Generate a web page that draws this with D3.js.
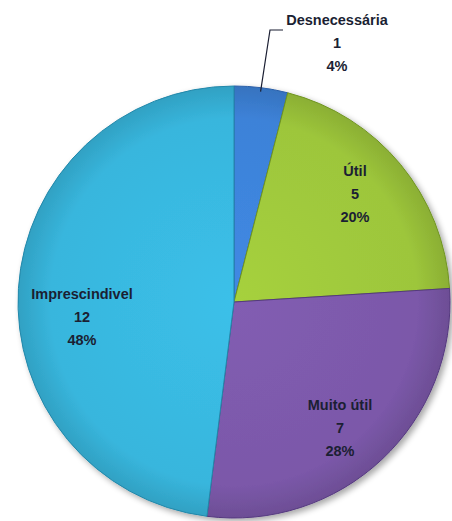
<!DOCTYPE html>
<html>
<head>
<meta charset="utf-8">
<script src="https://cdn.jsdelivr.net/npm/d3@7/dist/d3.min.js"></script>
<style>
  html, body { margin: 0; padding: 0; background: #fff; }
  svg { display: block; }
  text { font-family: "Liberation Sans", Arial, sans-serif; font-weight: bold; fill: #1b1f33; }
</style>
</head>
<body>
<svg id="chart" width="452" height="521"></svg>
<script>
// Answer categories, counts and slice colours (clockwise from 12 o'clock)
const categories = ["Desnecessária", "Útil", "Muito útil", "Imprescindivel"];
const counts = [1, 5, 7, 12];
const colors = ["#3d82d8", "#9dc63b", "#7b58a9", "#38b6dd"];
const edgeColors = ["#2b5fa8", "#6f9420", "#55397f", "#2388aa"];

const width = 452, height = 521;
const cx = 234, cy = 302, radius = 216;

const svg = d3.select("#chart");
const defs = svg.append("defs");

// soft shadow under the pie
const shadow = defs.append("filter").attr("id", "shadow")
  .attr("x", "-10%").attr("y", "-10%").attr("width", "130%").attr("height", "130%");
shadow.append("feGaussianBlur").attr("in", "SourceAlpha").attr("stdDeviation", 3);
shadow.append("feOffset").attr("dx", 3).attr("dy", 3).attr("result", "off");
shadow.append("feComponentTransfer").append("feFuncA").attr("type", "linear").attr("slope", 0.35);
const merge = shadow.append("feMerge");
merge.append("feMergeNode");
merge.append("feMergeNode").attr("in", "SourceGraphic");

// radial shading for each slice
colors.forEach((c, i) => {
  const g = defs.append("radialGradient").attr("id", "grad" + i)
    .attr("gradientUnits", "userSpaceOnUse")
    .attr("cx", 0).attr("cy", 0).attr("r", radius);
  g.append("stop").attr("offset", "0%").attr("stop-color", d3.color(c).brighter(0.15));
  g.append("stop").attr("offset", "85%").attr("stop-color", c);
  g.append("stop").attr("offset", "100%").attr("stop-color", d3.color(c).darker(0.35));
});

const total = d3.sum(counts);
const pie = d3.pie().sort(null).value(d => d);
const arcs = pie(counts);
const arc = d3.arc().innerRadius(0).outerRadius(radius);

const g = svg.append("g").attr("transform", `translate(${cx},${cy})`);

g.append("g").attr("filter", "url(#shadow)")
  .selectAll("path")
  .data(arcs)
  .join("path")
  .attr("d", arc)
  .attr("fill", (d, i) => `url(#grad${i})`)
  .attr("stroke", (d, i) => edgeColors[i])
  .attr("stroke-width", 1);

// label anchors relative to the pie centre, one per slice
const labelPos = [
  [103, -277],
  [121, -126],
  [106, 108],
  [-152, -3]
];
const lineGap = 23;

arcs.forEach((d, i) => {
  const [lx, ly] = labelPos[i];
  const t = g.append("text")
    .attr("text-anchor", "middle")
    .attr("font-size", 14.5);
  const lines = [categories[i], String(counts[i]), Math.round(counts[i] / total * 100) + "%"];
  lines.forEach((s, k) => {
    t.append("tspan").attr("x", lx).attr("y", ly + k * lineGap).text(s);
  });
});

// leader line for the thin slice
const a0 = arcs[0];
const mid = (a0.startAngle + a0.endAngle) / 2;
const px = Math.sin(mid) * (radius - 4), py = -Math.cos(mid) * (radius - 4);
g.append("path")
  .attr("d", `M${px},${py} L${36},${-272} L${49},${-272}`)
  .attr("fill", "none")
  .attr("stroke", "#1b1f33")
  .attr("stroke-width", 1.2);
</script>
</body>
</html>
